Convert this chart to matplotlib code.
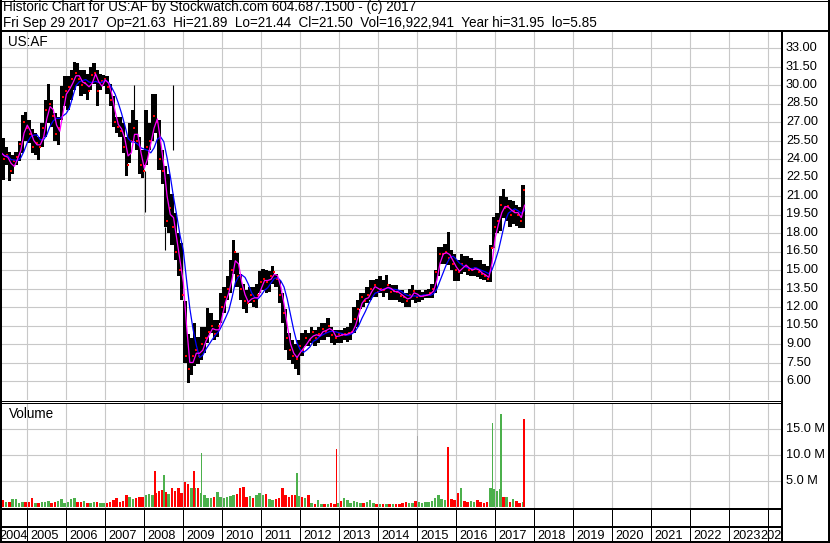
import numpy as np
import pandas as pd
import matplotlib
matplotlib.use("Agg")
import matplotlib.pyplot as plt
from matplotlib.lines import Line2D

W, H = 830, 543
plt.rcParams['font.family'] = ['Liberation Sans', 'DejaVu Sans']
FS = 9.2
FS_HEAD = 9.75

# ---- monthly OHLC, Apr 2004 .. Sep 2017 -----------------------------------
FIRST = 3   # month index from Jan 2004 (3 = Apr 2004)
hi = [25.6, 25.7, 25.0, 24.6, 24.3, 24.6, 25.5, 27.6, 27.8,
      27.2, 26.4, 26.1, 25.8, 26.9, 28.8, 30.1, 28.8, 27.7, 27.4, 29.9, 30.7,
      30.7, 31.2, 31.9, 31.8, 31.2, 31.2, 30.9, 31.5, 31.8, 31.2, 30.9, 30.8,
      30.7, 30.1, 29.1, 27.4, 27.4, 26.9, 25.8, 26.9, 28.0, 27.2, 25.8, 24.7,
      28.0, 26.9, 29.3, 29.3, 27.2, 24.7, 23.4, 22.8, 21.2, 19.6, 18.0, 17.2,
      12.5, 9.8, 9.5, 10.7, 9.6, 10.4, 10.4, 11.9, 11.5, 10.95, 10.95, 13.1,
      13.6, 14.5, 15.8, 17.4, 16.4, 14.7, 13.9, 13.4, 13.65, 13.65, 13.9, 14.9,
      15.1, 15.0, 14.9, 15.3, 14.7, 14.2, 13.1, 11.8, 9.9, 9.3, 9.0, 9.3,
      9.9, 10.1, 9.9, 10.4, 10.1, 10.4, 10.7, 10.7, 11.1, 10.4, 10.1, 10.1,
      10.1, 10.3, 10.4, 10.7, 12.0, 12.6, 13.1, 13.1, 13.65, 14.2, 14.2, 14.3,
      14.5, 14.2, 14.6, 13.9, 13.8, 13.8, 13.4, 13.4, 13.1, 13.5, 13.8, 13.4,
      13.4, 13.25, 13.4, 13.5, 13.9, 15.0, 16.9, 16.9, 17.1, 18.1, 16.6, 16.3,
      15.8, 16.3, 16.1, 16.1, 16.0, 15.8, 15.8, 15.8, 15.5, 15.3, 17.0, 19.3,
      19.6, 21.0, 21.6, 20.9, 20.7, 20.6, 20.3, 20.1, 21.9]
lo = [22.5, 22.3, 23.5, 22.2, 22.8, 23.5, 23.8, 24.5, 25.5,
      25.3, 24.5, 24.3, 23.9, 25.0, 25.8, 26.9, 26.6, 25.5, 25.1, 27.2, 28.3,
      28.0, 28.8, 29.6, 29.9, 29.1, 29.3, 28.8, 29.6, 30.1, 28.3, 29.6, 29.9,
      29.3, 28.3, 26.6, 26.1, 25.8, 24.5, 22.6, 23.7, 25.5, 24.7, 22.8, 22.5,
      23.5, 24.7, 25.5, 26.1, 23.1, 22.0, 18.5, 18.0, 17.0, 15.8, 14.5, 12.6,
      7.5, 5.85, 6.5, 7.2, 7.4, 7.7, 8.25, 9.1, 9.9, 9.3, 9.6, 10.7,
      11.5, 12.6, 13.1, 14.7, 13.65, 12.6, 11.8, 11.5, 12.3, 12.0, 11.9, 13.1,
      13.4, 13.1, 13.25, 13.9, 13.65, 12.3, 10.7, 8.5, 7.7, 7.4, 7.0, 6.5,
      8.0, 8.8, 8.8, 9.1, 8.8, 9.1, 9.3, 9.3, 9.6, 9.1, 8.9, 9.1,
      9.1, 9.3, 9.2, 9.3, 9.9, 10.4, 11.8, 12.0, 12.3, 12.6, 12.85, 12.85,
      13.1, 12.85, 13.1, 12.6, 12.6, 12.6, 12.4, 12.3, 12.0, 12.0, 12.6, 12.3,
      12.4, 12.6, 12.7, 12.7, 12.7, 13.1, 14.5, 15.5, 15.5, 15.4, 15.0, 14.1,
      14.1, 14.7, 14.8, 14.6, 14.5, 14.5, 14.4, 14.3, 14.2, 14.0, 14.0, 16.8,
      18.0, 18.2, 19.2, 19.0, 18.5, 18.7, 18.6, 18.4, 18.4]
cl = [24.5, 24.0, 24.3, 23.0, 23.8, 24.2, 25.2, 27.0, 26.5,
      26.0, 25.0, 25.3, 25.0, 26.5, 28.0, 28.5, 27.5, 26.0, 26.5, 29.0, 29.5,
      29.8, 30.5, 31.0, 30.5, 30.0, 30.2, 29.5, 30.8, 31.0, 29.5, 30.3, 30.5,
      29.8, 28.8, 27.0, 26.6, 26.3, 25.0, 23.5, 25.5, 26.5, 25.5, 23.5, 23.0,
      25.0, 25.5, 27.5, 27.0, 24.0, 23.0, 19.0, 20.0, 18.5, 16.5, 15.0, 13.0,
      8.0, 7.0, 8.0, 8.5, 8.0, 9.0, 9.5, 10.0, 10.5, 9.8, 10.5, 12.0,
      12.8, 13.5, 15.0, 16.5, 14.5, 13.5, 12.5, 12.3, 13.0, 12.5, 13.0, 14.0,
      14.3, 14.0, 14.5, 14.8, 14.3, 13.0, 11.5, 9.5, 8.5, 8.0, 7.8, 8.8,
      8.5, 9.5, 9.3, 10.0, 9.5, 9.8, 10.2, 10.0, 10.5, 9.7, 9.5, 9.8,
      9.7, 9.8, 9.9, 10.0, 11.0, 11.8, 12.8, 12.5, 13.0, 13.5, 13.8, 13.2,
      13.5, 13.4, 13.8, 13.2, 13.3, 13.2, 12.9, 12.8, 12.5, 13.0, 13.3, 12.8,
      12.9, 12.9, 13.0, 13.1, 13.5, 14.8, 16.3, 16.3, 16.5, 16.0, 15.5, 15.0,
      14.8, 15.5, 15.3, 15.0, 15.0, 15.2, 14.8, 14.7, 14.5, 14.3, 16.8, 18.5,
      19.0, 20.3, 20.0, 20.2, 19.5, 19.8, 19.5, 19.0, 21.5]

# single-day extremes that stand out as thin lines
spike_t = [2007.725, 2008.03, 2008.53, 2008.726]
spike_top = [30.0, 23.0, 18.5, 30.0]
spike_bot = [27.0, 19.7, 16.6, 24.7]

# monthly peak volume (millions)
vol = [0.8, 1.4, 1.0, 0.9, 1.5, 1.6, 0.8, 1.0, 0.9,
       1.0, 1.7, 0.8, 0.7, 0.9, 1.0, 1.2, 0.8, 1.0, 1.1, 1.5, 0.8,
       0.9, 1.6, 1.7, 1.0, 0.9, 1.1, 0.8, 0.7, 1.0, 0.9, 0.7, 0.8,
       0.8, 1.0, 1.3, 1.7, 1.0, 1.2, 2.4, 2.0, 1.6, 1.8, 1.9, 2.0,
       2.3, 2.5, 2.3, 2.6, 3.0, 3.2, 2.8, 2.5, 3.6, 3.0, 3.6, 2.6,
       4.9, 4.5, 3.7, 3.6, 3.6, 2.6, 2.3, 1.8, 1.8, 2.0, 2.9, 2.0,
       1.8, 2.0, 2.2, 2.3, 2.5, 3.6, 3.8, 2.0, 2.1, 1.8, 2.3, 2.6,
       2.3, 2.5, 1.6, 1.3, 1.5, 1.8, 3.7, 2.4, 2.0, 2.3, 2.4, 2.2,
       1.9, 1.7, 2.3, 0.7, 0.6, 1.4, 0.6, 0.5, 0.5, 0.7, 0.5, 0.8,
       1.2, 1.7, 1.3, 0.8, 1.2, 1.0, 0.8, 0.8, 1.0, 1.3, 0.8, 0.6,
       0.6, 0.5, 0.6, 0.5, 0.6, 0.5, 0.6, 0.7, 1.0, 0.8, 0.7, 1.2,
       1.0, 0.8, 1.0, 0.9, 1.2, 1.8, 2.4, 1.5, 1.3, 2.9, 1.5, 1.3,
       2.6, 3.7, 1.2, 1.0, 1.2, 0.9, 1.3, 0.9, 0.8, 1.0, 3.7, 3.5,
       3.0, 3.4, 2.0, 1.9, 1.0, 1.6, 1.2, 0.7, 0.9]

# single-day volume spikes
vspike_t = [2008.27, 2008.51, 2009.28, 2009.47, 2011.92, 2012.93,
            2015.01, 2015.78, 2016.93, 2017.14, 2017.74]
vspike_v = [7.0, 6.1, 7.0, 10.3, 6.5, 11.1, 13.7, 11.6, 16.1, 17.8, 16.9]
vspike_c = ['red', 'green', 'red', 'green', 'green', 'red',
            'gray', 'red', 'green', 'green', 'red']

price_ticks = np.arange(6.0, 33.01, 1.5)
vol_ticks = [5, 10, 15]
years = list(range(2004, 2025))

header1 = "Historic Chart for US:AF by Stockwatch.com 604.687.1500 - (c) 2017"
header2 = ("Fri Sep 29 2017  Op=21.63  Hi=21.89  Lo=21.44  Cl=21.50  "
           "Vol=16,922,941  Year hi=31.95  lo=5.85")

GREEN = '#4cb04c'
RED = '#ff0000'
GRID = '#c8c8c8'
CMAP = {'red': RED, 'green': GREEN, 'gray': '#a6a6a6'}

# ---- pixel geometry ---------------------------------------------------------
X_L, X_R = 2, 781          # plot area
PX_2005, PX_YEAR = 27.3, 39.0


def t_of(x):
    return 2005 + (x - PX_2005) / PX_YEAR


def p_of(y):
    return 33 - (y - 48) * 1.5 / 18.5


def v_of(y):
    return (507 - y) / 5.2


def box(x0, y0, x1, y1):
    return [x0 / W, 1 - y1 / H, (x1 - x0) / W, (y1 - y0) / H]


fig = plt.figure(figsize=(W / 100, H / 100), dpi=100)
fig.patch.set_facecolor('white')

n = len(cl)
midx = np.arange(FIRST, FIRST + n)
t_mid = 2004 + (midx + 0.5) / 12
t_end = 2004 + (midx + 1) / 12
cls = pd.Series(cl)
ma_fast = cls.rolling(2, min_periods=1).mean()
ma_slow = cls.rolling(5, min_periods=1).mean()

# ---- price panel -----------------------------------------------------------
ax = fig.add_axes(box(X_L, 31, X_R, 400))
ax.set_xlim(t_of(X_L), t_of(X_R))
ax.set_ylim(p_of(400), p_of(31))
ax.axis('off')
for yr in years[1:]:
    ax.axvline(yr, color=GRID, lw=0.8, zorder=0)
for p in price_ticks:
    ax.axhline(p, color=GRID, lw=0.8, zorder=0)
ax.bar(t_mid, np.array(hi) - np.array(lo), bottom=lo, width=1 / 12,
       color='black', linewidth=0, zorder=2)
ax.vlines(spike_t, spike_bot, spike_top, color='black', lw=0.8, zorder=2)
ax.plot(t_mid + 0.35 / 12, cl, 's', ms=1.5, mew=0, color=RED, zorder=3)
ax.plot(t_end, ma_slow, color='#0000ff', lw=0.9, zorder=4)
ax.plot(t_end, ma_fast, color='#ff00ff', lw=0.9, zorder=5)

# ---- volume panel ----------------------------------------------------------
av = fig.add_axes(box(X_L, 404, X_R, 509))
av.set_xlim(t_of(X_L), t_of(X_R))
av.set_ylim(v_of(509), v_of(404))
av.axis('off')
for yr in years[1:]:
    av.axvline(yr, color=GRID, lw=0.8, zorder=0)
for v in vol_ticks:
    av.axhline(v, color=GRID, lw=0.8, zorder=0)
up = np.diff(np.r_[cl[0], cl]) >= 0
av.bar(t_mid, vol, width=0.8 / 12, color=[GREEN if u else RED for u in up],
       linewidth=0, zorder=2)
av.bar(vspike_t, vspike_v, width=1.6 / PX_YEAR,
       color=[CMAP[c] for c in vspike_c], linewidth=0, zorder=3)

# ---- frame lines -----------------------------------------------------------


def hline(y, x0, x1, lw=1.0):
    fig.add_artist(Line2D([x0 / W, x1 / W], [1 - y / H, 1 - y / H],
                          color='black', lw=lw * 0.72, solid_capstyle='butt'))


def vline(x, y0, y1, lw=1.0):
    fig.add_artist(Line2D([x / W, x / W], [1 - y0 / H, 1 - y1 / H],
                          color='black', lw=lw * 0.72, solid_capstyle='butt'))


hline(0.5, 0, W, 1)
hline(30.5, 0, W, 2)
hline(400.5, 0, X_R, 1)
hline(403.0, 0, X_R, 1)
hline(509, 0, X_R, 2)
hline(527, 0, X_R, 2)
hline(541.5, 0, W, 2)
vline(1, 0, H, 2)
vline(828.5, 0, H, 2)
vline(781.5, 31, H, 2)
for yr in years[1:]:
    x = PX_2005 + (yr - 2005) * PX_YEAR
    vline(x, 509, 541, 1)

# ---- text ------------------------------------------------------------------
fig.text(3 / W, 1 - 11 / H, header1, fontsize=FS_HEAD, va='baseline')
fig.text(3 / W, 1 - 26.5 / H, header2, fontsize=FS_HEAD, va='baseline')
fig.text(8 / W, 1 - 46 / H, "US:AF", fontsize=FS_HEAD, va='baseline')
fig.text(9 / W, 1 - 418 / H, "Volume", fontsize=FS_HEAD, va='baseline')
for p in price_ticks:
    y = 48 + (33 - p) / 1.5 * 18.5
    fig.text(786 / W, 1 - y / H, f"{p:.2f}", fontsize=FS, va='center')
for v in vol_ticks:
    y = 507 - v * 5.2
    fig.text(786 / W, 1 - y / H, f"{v:.1f} M", fontsize=FS, va='center')

ay = fig.add_axes(box(X_L, 527, X_R, 541))
ay.set_xlim(X_L, X_R)
ay.set_ylim(541, 527)
ay.axis('off')
for yr in years:
    x = PX_2005 + (yr - 2005) * PX_YEAR + 2.7
    if yr == years[0]:
        x = -1
    if yr == years[-1]:
        x = 760.5
    ay.text(x, 539, str(yr), fontsize=FS, va='baseline', ha='left', clip_on=True)

fig.savefig("out.png", dpi=100, facecolor='white')
